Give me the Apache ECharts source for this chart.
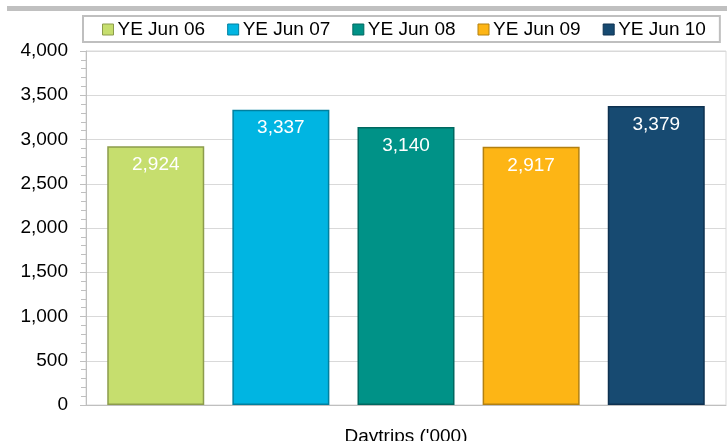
<!DOCTYPE html>
<html>
<head>
<meta charset="utf-8">
<script src="https://cdn.jsdelivr.net/npm/echarts@6/dist/echarts.min.js"></script>
<style>
  html, body { margin: 0; padding: 0; background: #fff; }
  #chart { width: 727px; height: 441px; }
</style>
</head>
<body>
<div id="chart"></div>
<script>
// data
const categories = ["Daytrips ('000)"];
const seriesNames = ['YE Jun 06', 'YE Jun 07', 'YE Jun 08', 'YE Jun 09', 'YE Jun 10'];
const seriesValues = [2924, 3337, 3140, 2917, 3379];
const colors = ['#C6DE6E', '#00B5E2', '#009287', '#FDB515', '#174A71'];
const edgeColors = ['#8C9C4C', '#00809F', '#006860', '#B38010', '#0E3150'];

const chart = echarts.init(document.getElementById('chart'));

const series = seriesNames.map((name, i) => ({
  name: name,
  type: 'bar',
  data: [seriesValues[i]],
  barWidth: 97,
  barGap: '29%',
  itemStyle: {
    color: colors[i],
    borderColor: edgeColors[i],
    borderWidth: 1.5
  },
  label: {
    show: true,
    position: 'insideTop',
    distance: 9,
    color: '#fff',
    fontSize: 19,
    fontFamily: 'Liberation Sans',
    formatter: (p) => p.value.toLocaleString('en-US')
  }
}));

const option = {
  animation: false,
  backgroundColor: '#fff',
  textStyle: { fontFamily: 'Liberation Sans' },
  graphic: [
    {
      type: 'rect',
      shape: { x: 7, y: 6, width: 720, height: 5 },
      style: { fill: '#c0c0c0' },
      silent: true
    }
  ],
  legend: {
    data: seriesNames.map((n, i) => ({
      name: n,
      itemStyle: { color: colors[i], borderColor: edgeColors[i], borderWidth: 1 }
    })),
    left: 83,
    top: 16,
    padding: [4, 14, 3, 19],
    itemWidth: 11,
    itemHeight: 11,
    itemGap: 22,
    icon: 'rect',
    borderColor: '#bfbfbf',
    borderWidth: 2,
    textStyle: { fontSize: 19, color: '#000', padding: [0, 0, 0, -1] }
  },
  grid: {
    left: 86,
    right: 1,
    top: 51,
    bottom: 36,
    outerBoundsMode: 'none',
    show: true,
    borderColor: '#d9d9d9',
    borderWidth: 1,
    backgroundColor: '#fff'
  },
  xAxis: {
    type: 'category',
    data: categories,
    axisLine: { lineStyle: { color: '#bfbfbf' } },
    axisTick: { show: false },
    axisLabel: { fontSize: 19, color: '#000', margin: 22 }
  },
  yAxis: {
    type: 'value',
    min: 0,
    max: 4000,
    interval: 500,
    axisLine: { show: true, lineStyle: { color: '#bfbfbf' } },
    axisTick: { show: true, length: 6, lineStyle: { color: '#bfbfbf' } },
    minorTick: { show: true, splitNumber: 5, length: 5, lineStyle: { color: '#bfbfbf' } },
    splitLine: { lineStyle: { color: '#d9d9d9' } },
    axisLabel: {
      fontSize: 19,
      color: '#000',
      margin: 18,
      formatter: (v) => v.toLocaleString('en-US')
    }
  },
  series: series
};

chart.setOption(option);
</script>
</body>
</html>
